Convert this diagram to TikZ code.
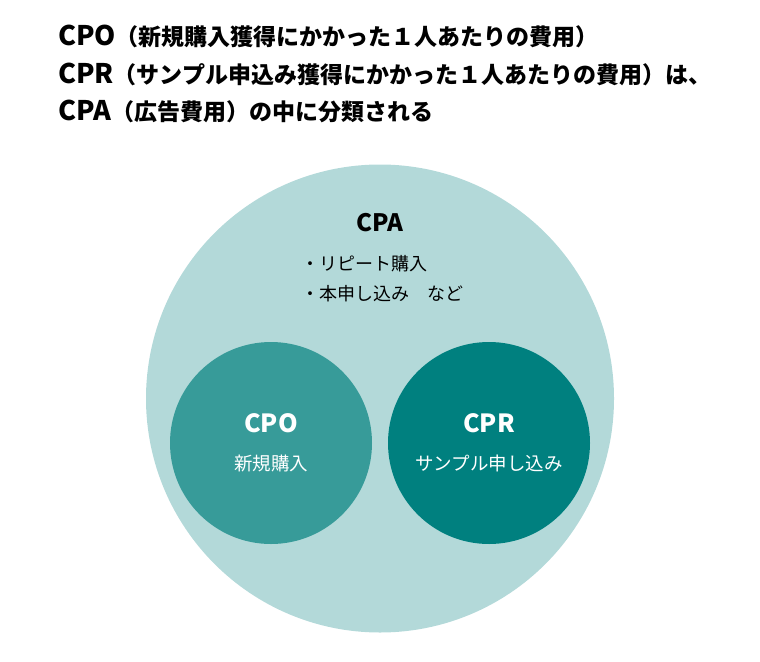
\documentclass[tikz,border=0pt]{standalone}
\usepackage{fontspec}
\setmainfont{Noto Sans CJK JP}
\definecolor{cpalight}{RGB}{179,217,217}
\definecolor{cpomid}{RGB}{55,155,153}
\definecolor{cprdark}{RGB}{0,128,127}
\tikzset{
  titleline/.style={anchor=base west, inner sep=0pt, font=\bfseries\fontsize{23}{23}\selectfont},
  bubble/.style={circle, inner sep=0pt, draw=none},
  biglabel/.style={anchor=base, inner sep=0pt, font=\bfseries\fontsize{25}{25}\selectfont},
  smalllabel/.style={anchor=base, inner sep=0pt, font=\fontsize{18.5}{18.5}\selectfont},
  bullettext/.style={anchor=base west, inner sep=0pt, font=\fontsize{18}{18}\selectfont},
}
\newcommand{\lat}[1]{{\fontsize{27}{27}\selectfont #1}}
\begin{document}
\begin{tikzpicture}[x=1pt,y=-1pt]
\useasboundingbox (0,0) rectangle (760,661);
\node[titleline] (t1) at (58,46) {\lat{CPO}（新規購入獲得にかかった１人あたりの費用）};
\node[titleline] (t2) at (58,83) {\lat{CPR}（サンプル申込み獲得にかかった１人あたりの費用）は、};
\node[titleline] (t3) at (58,120) {\lat{CPA}（広告費用）の中に分類される};
\node[bubble, fill=cpalight, minimum size=468pt] (cpa) at (380,398.5) {};
\node[bubble, fill=cpomid, minimum size=202pt] (cpo) at (271,443) {};
\node[bubble, fill=cprdark, minimum size=202pt] (cpr) at (489,443) {};
\node[biglabel, font=\bfseries\fontsize{24}{24}\selectfont] (cpatitle) at (380,231) {CPA};
\node[bullettext] (b1) at (301,270) {・リピート購入};
\node[bullettext] (b2) at (301,300) {・本申し込み　など};
\node[biglabel, text=white] (cpotitle) at (271,432) {CPO};
\node[smalllabel, text=white] (cposub) at (271,470) {新規購入};
\node[biglabel, text=white] (cprtitle) at (489,432) {CPR};
\node[smalllabel, text=white] (cprsub) at (489,470) {サンプル申し込み};
\end{tikzpicture}
\end{document}
